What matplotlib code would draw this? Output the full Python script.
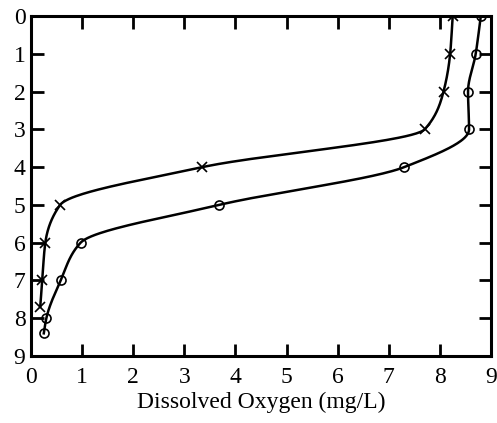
import numpy as np
import matplotlib
matplotlib.use("Agg")
import matplotlib.pyplot as plt

plt.rcParams['font.family'] = ['Liberation Serif', 'DejaVu Serif']

# Dissolved oxygen profiles (mg/L) versus depth
depth_x = [0, 1, 2, 3, 4, 5, 6, 7, 7.7]
do_x = [8.25, 8.2, 8.07, 7.7, 3.35, 0.57, 0.28, 0.22, 0.18]

depth_o = [0, 1, 2, 3, 4, 5, 6, 7, 8, 8.4]
do_o = [8.8, 8.7, 8.55, 8.57, 7.3, 3.68, 0.97, 0.58, 0.3, 0.25]

x_ticks = list(range(0, 10))
y_ticks = list(range(0, 10))
x_label = "Dissolved Oxygen (mg/L)"


def pchip(xk, yk, xs):
    """Monotone cubic (Fritsch-Carlson) interpolation."""
    xk = np.asarray(xk, float)
    yk = np.asarray(yk, float)
    h = np.diff(xk)
    delta = np.diff(yk) / h
    n = len(xk)
    d = np.zeros(n)
    for i in range(1, n - 1):
        if delta[i - 1] * delta[i] <= 0:
            d[i] = 0.0
        else:
            w1 = 2 * h[i] + h[i - 1]
            w2 = h[i] + 2 * h[i - 1]
            d[i] = (w1 + w2) / (w1 / delta[i - 1] + w2 / delta[i])
    d[0] = delta[0]
    d[-1] = delta[-1]
    out = np.empty_like(xs)
    idx = np.clip(np.searchsorted(xk, xs) - 1, 0, n - 2)
    for j, (x, i) in enumerate(zip(xs, idx)):
        t = (x - xk[i]) / h[i]
        h00 = 2 * t**3 - 3 * t**2 + 1
        h10 = t**3 - 2 * t**2 + t
        h01 = -2 * t**3 + 3 * t**2
        h11 = t**3 - t**2
        out[j] = (h00 * yk[i] + h10 * h[i] * d[i]
                  + h01 * yk[i + 1] + h11 * h[i] * d[i + 1])
    return out


fig = plt.figure(figsize=(4.97, 4.23), dpi=100)
ax = fig.add_axes([0.0624, 0.1584, 0.9256, 0.8036])

for depth, do, mk, ms in [(depth_x, do_x, 'x', 6.5), (depth_o, do_o, 'o', 6.5)]:
    ds = np.linspace(depth[0], depth[-1], 400)
    ax.plot(pchip(depth, do, ds), ds, color='black', lw=1.8)
    ax.plot(do, depth, linestyle='none', marker=mk, ms=ms, mec='black',
            mfc='none', mew=1.2)

ax.set_xlim(0, 9)
ax.set_ylim(9, 0)
ax.set_xticks(x_ticks)
ax.set_yticks(y_ticks)
ax.tick_params(direction='in', length=9, width=2, top=True, right=True,
               labelsize=17, colors='black')
ax.tick_params(axis='x', pad=8)
ax.tick_params(axis='y', pad=4)
for s in ax.spines.values():
    s.set_linewidth(2.2)
ax.set_xlabel(x_label, fontsize=17, labelpad=3)

fig.savefig("out.png", dpi=100)
